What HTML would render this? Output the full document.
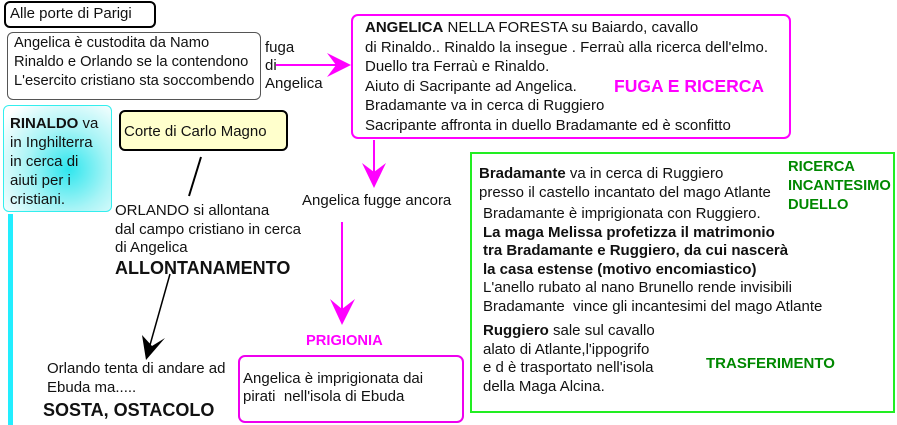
<!DOCTYPE html>
<html><head><meta charset="utf-8"><style>
body{margin:0;width:897px;height:425px;background:#fff;position:relative;overflow:hidden;font-family:"Liberation Sans",sans-serif;font-size:15px;color:#111}
.a{position:absolute;white-space:nowrap}
.box{position:absolute;box-sizing:border-box}
b{font-weight:bold}
</style></head><body>
<div class="box" style="left:4px;top:1px;width:152px;height:27px;border:2px solid #000;border-radius:6px"></div>
<div class="a" style="left:10px;top:5px">Alle porte di Parigi</div>
<div class="box" style="left:7px;top:32px;width:254px;height:68px;border:1px solid #555;border-radius:6px"></div>
<div class="a" style="left:14px;top:34px;line-height:19px;font-size:14.7px">Angelica è custodita da Namo<br>Rinaldo e Orlando se la contendono<br>L'esercito cristiano sta soccombendo</div>
<div class="a" style="left:265px;top:39px;line-height:18px">fuga<br>di<br>Angelica</div>

<div class="box" style="left:351px;top:14px;width:440px;height:125px;border:2px solid #f0f;border-radius:7px"></div>
<div class="a" style="left:365px;top:18px;line-height:19.5px"><b>ANGELICA</b> NELLA FORESTA su Baiardo, cavallo<br>di Rinaldo.. Rinaldo la insegue . Ferraù alla ricerca dell'elmo.<br>Duello tra Ferraù e Rinaldo.<br>Aiuto di Sacripante ad Angelica.<br>Bradamante va in cerca di Ruggiero<br>Sacripante affronta in duello Bradamante ed è sconfitto</div>
<div class="a" style="left:614px;top:76px;color:#f0f;font-weight:bold;font-size:17.5px">FUGA E RICERCA</div>

<div class="box" style="left:3px;top:105px;width:109px;height:107px;border:1px solid #3ee;border-radius:6px;background:radial-gradient(circle at 60% 60%,#2ee6ee 0%,#a8f4f6 45%,#fff 90%)"></div>
<div class="a" style="left:10px;top:114px;line-height:19px"><b>RINALDO</b> va<br>in Inghilterra<br>in cerca di<br>aiuti per i<br>cristiani.</div>
<div class="box" style="left:8px;top:214px;width:5px;height:211px;background:#2ef"></div>

<div class="box" style="left:119px;top:110px;width:169px;height:41px;border:2px solid #000;border-radius:6px;background:#ffffcc"></div>
<div class="a" style="left:124px;top:123px">Corte di Carlo Magno</div>

<svg class="box" style="left:0;top:0" width="897" height="425">
<line x1="201" y1="157" x2="189" y2="196" stroke="#000" stroke-width="2"/>
<line x1="170" y1="274" x2="150" y2="345" stroke="#000" stroke-width="1.5"/>
<polygon points="142,335 146,360 165,338 152,346" fill="#000"/>
<line x1="276" y1="65" x2="340" y2="65" stroke="#f0f" stroke-width="2"/>
<polygon points="327,53 351,65 327,77 336,65" fill="#f0f"/>
<line x1="374" y1="140" x2="374" y2="180" stroke="#f0f" stroke-width="2"/>
<polygon points="362,163 374,188 386,163 374,172" fill="#f0f"/>
<line x1="342" y1="222" x2="342" y2="315" stroke="#f0f" stroke-width="2"/>
<polygon points="330,299 342,325 355,299 342,309" fill="#f0f"/>
</svg>

<div class="a" style="left:115px;top:202px;line-height:18.5px">ORLANDO si allontana<br>dal campo cristiano in cerca<br>di Angelica</div>
<div class="a" style="left:115px;top:258px;font-weight:bold;font-size:18px">ALLONTANAMENTO</div>
<div class="a" style="left:302px;top:192px">Angelica fugge ancora</div>
<div class="a" style="left:47px;top:359px;line-height:19px">Orlando tenta di andare ad<br>Ebuda ma.....</div>
<div class="a" style="left:43px;top:400px;font-weight:bold;font-size:18px">SOSTA, OSTACOLO</div>

<div class="a" style="left:306px;top:333px;color:#f0f;font-weight:bold;font-size:14.7px">PRIGIONIA</div>
<div class="box" style="left:238px;top:355px;width:226px;height:68px;border:2px solid #e0e;border-radius:7px"></div>
<div class="a" style="left:243px;top:370px;line-height:18px">Angelica è imprigionata dai<br>pirati&nbsp; nell'isola di Ebuda</div>

<div class="box" style="left:470px;top:152px;width:425px;height:261px;border:2px solid #2e2"></div>
<div class="a" style="left:479px;top:164px;line-height:19px"><b>Bradamante</b> va in cerca di Ruggiero<br>presso il castello incantato del mago Atlante</div>
<div class="a" style="left:483px;top:205px;line-height:18.5px">Bradamante è imprigionata con Ruggiero.<br><b>La maga Melissa profetizza il matrimonio<br>tra Bradamante e Ruggiero, da cui nascerà<br>la casa estense (motivo encomiastico)</b><br>L'anello rubato al nano Brunello rende invisibili<br>Bradamante&nbsp; vince gli incantesimi del mago Atlante</div>
<div class="a" style="left:483px;top:322px;line-height:18.5px"><b>Ruggiero</b> sale sul cavallo<br>alato di Atlante,l'ippogrifo<br>e d è trasportato nell'isola<br>della Maga Alcina.</div>
<div class="a" style="left:788px;top:158px;line-height:19px;color:#080;font-weight:bold;font-size:14.7px">RICERCA<br>INCANTESIMO<br>DUELLO</div>
<div class="a" style="left:706px;top:355px;color:#080;font-weight:bold;font-size:15px">TRASFERIMENTO</div>
</body></html>
